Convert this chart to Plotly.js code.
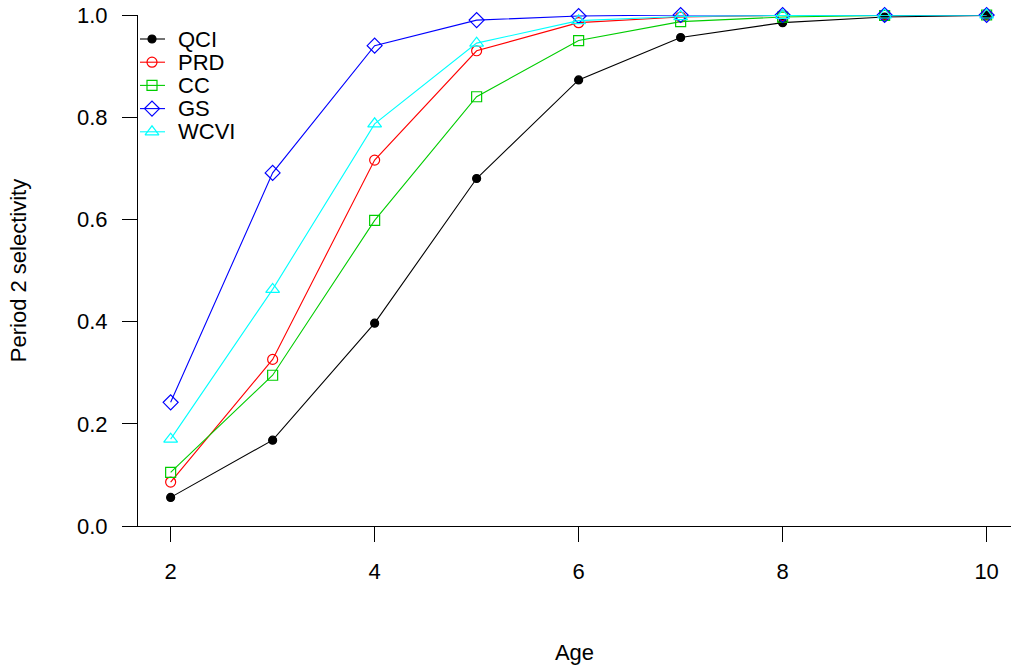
<!DOCTYPE html>
<html>
<head>
<meta charset="utf-8">
<script src="https://cdn.plot.ly/plotly-3.0.1.min.js"></script>
<style>
  html, body { margin: 0; padding: 0; background: #ffffff; }
  #chart { width: 1011px; height: 667px; }
</style>
</head>
<body>
<div id="chart"></div>
<script>
// Selectivity-at-age curves for period 2, one per stock area
const ages = [2, 3, 4, 5, 6, 7, 8, 9, 10];
const seriesNames = ["QCI", "PRD", "CC", "GS", "WCVI"];
const qci  = [0.056, 0.168, 0.397, 0.680, 0.873, 0.956, 0.985, 0.996, 0.999];
const prd  = [0.086, 0.326, 0.716, 0.930, 0.985, 0.996, 0.999, 1.000, 1.000];
const cc   = [0.105, 0.295, 0.598, 0.840, 0.950, 0.987, 0.996, 0.999, 1.000];
const gs   = [0.242, 0.691, 0.940, 0.990, 0.998, 1.000, 1.000, 1.000, 1.000];
const wcvi = [0.170, 0.463, 0.787, 0.945, 0.989, 0.997, 0.999, 1.000, 1.000];
const xTicks = [2, 4, 6, 8, 10];
const yTicks = [0, 0.2, 0.4, 0.6, 0.8, 1.0];

const seriesValues = [qci, prd, cc, gs, wcvi];
const colors = ["#000000", "#FF0000", "#00CD00", "#0000FF", "#00FFFF"];
const symbols = ["circle", "circle-open", "square-open", "diamond-open", "triangle-up-open"];
const sizes = [8, 10, 10, 11.5, 12];

const FONT = "Liberation Sans, Arial, Helvetica, sans-serif";
const FS = 22;

const traces = seriesNames.map((name, i) => ({
  type: "scatter",
  mode: "lines+markers",
  name: name,
  x: ages,
  y: seriesValues[i],
  line: { color: colors[i], width: 1.1 },
  marker: { symbol: symbols[i], size: sizes[i], color: colors[i], line: { color: colors[i], width: 1.2 } },
  cliponaxis: false,
  showlegend: false,
  hoverinfo: "x+y+name"
}));

// Key in the top-left corner, drawn on a pixel-scaled overlay axis pair
const keyX0 = 140, keyXM = 152, keyX1 = 165, keyTextX = 176;
const keyRow0 = 39, keyRowStep = 23.2;
const keyTraces = seriesNames.map((name, i) => ({
  type: "scatter",
  mode: "lines+markers",
  xaxis: "x2",
  yaxis: "y2",
  x: [keyX0, keyXM, keyX1],
  y: [keyRow0 + i * keyRowStep, keyRow0 + i * keyRowStep, keyRow0 + i * keyRowStep],
  line: { color: colors[i], width: 1.1 },
  marker: { symbol: symbols[i], size: sizes[i], color: colors[i], opacity: [0, 1, 0], line: { color: colors[i], width: 1.2 } },
  cliponaxis: false,
  showlegend: false,
  hoverinfo: "skip"
}));
const keyLabels = seriesNames.map((name, i) => ({
  xref: "x2", yref: "y2",
  x: keyTextX, y: keyRow0 + i * keyRowStep,
  xanchor: "left", yanchor: "middle",
  text: name, showarrow: false,
  font: { family: FONT, size: FS, color: "#000000" }
}));

const layout = {
  width: 1011,
  height: 667,
  margin: { l: 138, r: 0, t: 15, b: 141 },
  paper_bgcolor: "#ffffff",
  plot_bgcolor: "#ffffff",
  showlegend: false,
  font: { family: FONT, size: FS, color: "#000000" },
  xaxis: {
    range: [1.68, 10.239],
    tickvals: xTicks,
    ticktext: xTicks.map(String),
    ticks: "outside",
    ticklen: 15,
    tickwidth: 1,
    tickcolor: "#000000",
    ticklabelstandoff: 11,
    showline: true,
    linecolor: "#000000",
    linewidth: 1,
    showgrid: false,
    zeroline: false,
    title: { text: "Age", standoff: 61, font: { family: FONT, size: FS } }
  },
  yaxis: {
    range: [0, 1],
    tickvals: yTicks,
    tickformat: ".1f",
    ticks: "outside",
    ticklen: 15,
    tickwidth: 1,
    tickcolor: "#000000",
    ticklabelstandoff: 10,
    showline: true,
    linecolor: "#000000",
    linewidth: 1,
    showgrid: false,
    zeroline: false,
    title: { text: "Period 2 selectivity", standoff: 44, font: { family: FONT, size: FS } }
  },
  xaxis2: { overlaying: "x", range: [138, 1011], visible: false, fixedrange: true },
  yaxis2: { overlaying: "y", range: [526, 15], visible: false, fixedrange: true },
  annotations: keyLabels
};

Plotly.newPlot("chart", traces.concat(keyTraces), layout, { displayModeBar: false, staticPlot: true });
</script>
</body>
</html>
